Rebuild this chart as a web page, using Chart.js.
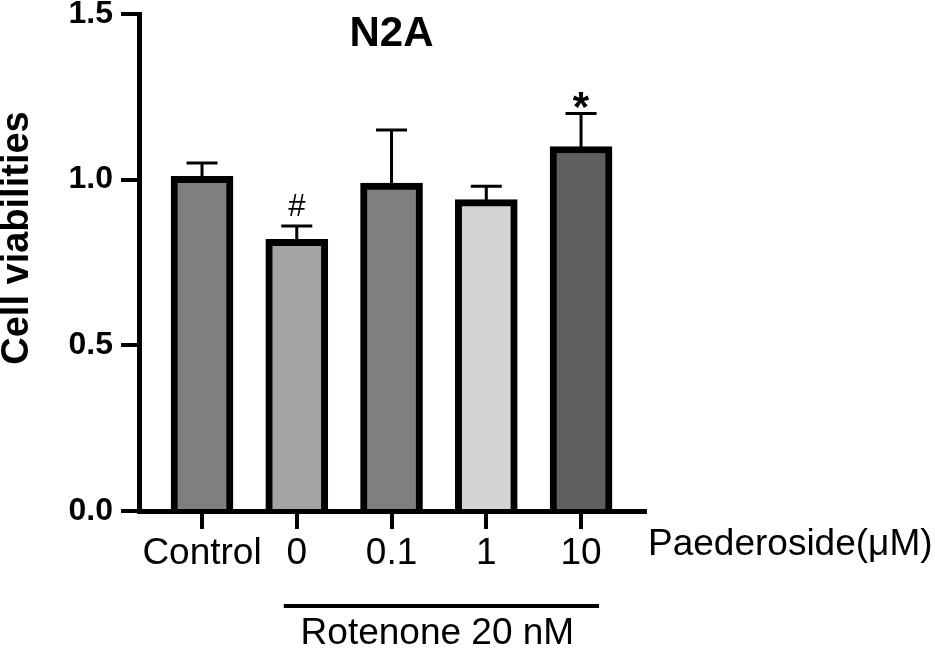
<!DOCTYPE html>
<html>
<head>
<meta charset="utf-8">
<title>N2A cell viabilities</title>
<script src="https://cdn.jsdelivr.net/npm/chart.js@4.4.0/dist/chart.umd.min.js"></script>
<style>
  html, body { margin: 0; padding: 0; background: #fff; }
  #wrap { width: 935px; height: 652px; }
</style>
</head>
<body>
<div id="wrap"><canvas id="chart" width="935" height="652"></canvas></div>
<script>
// values (mean + upper error)
const categories = ['Control', '0', '0.1', '1', '10'];
const means = [1.01, 0.82, 0.99, 0.94, 1.10];
const errors = [0.04, 0.04, 0.16, 0.04, 0.10];
const marks = ['', '#', '', '', '*'];
const barColors = ['#7f7f7f', '#a3a3a3', '#7f7f7f', '#d4d4d4', '#5f5f5f'];
const yTicks = [0, 0.5, 1.0, 1.5];

const FONT = "'Liberation Sans', Arial, Helvetica, sans-serif";

// error bars, significance marks and the extra labels
const extras = {
  id: 'extras',
  afterDatasetsDraw(chart) {
    const { ctx, scales: { x, y } } = chart;
    ctx.save();
    ctx.strokeStyle = '#000';
    ctx.lineWidth = 3;
    means.forEach((m, i) => {
      const cx = x.getPixelForValue(i);
      const top = y.getPixelForValue(m + errors[i]);
      const base = y.getPixelForValue(m);
      ctx.beginPath();
      ctx.moveTo(cx, base + 2);
      ctx.lineTo(cx, top);
      ctx.moveTo(cx - 15.5, top);
      ctx.lineTo(cx + 15.5, top);
      ctx.stroke();

      if (marks[i] === '#') {
        ctx.fillStyle = '#000';
        ctx.font = '31px ' + FONT;
        ctx.textAlign = 'center';
        ctx.textBaseline = 'alphabetic';
        ctx.fillText('#', cx, top - 10);
      } else if (marks[i] === '*') {
        ctx.fillStyle = '#000';
        ctx.font = 'bold 42px ' + FONT;
        ctx.textAlign = 'center';
        ctx.textBaseline = 'alphabetic';
        ctx.fillText('*', cx, top + 8);
      }
    });
    ctx.restore();
  },
  afterDraw(chart) {
    const { ctx, chartArea, scales: { x } } = chart;
    ctx.save();
    ctx.fillStyle = '#000';
    ctx.strokeStyle = '#000';

    // title
    ctx.font = 'bold 42px ' + FONT;
    ctx.textAlign = 'center';
    ctx.textBaseline = 'middle';
    ctx.fillText('N2A', x.getPixelForValue(2), 34);

    // y axis title
    ctx.save();
    ctx.translate(18, 238);
    ctx.rotate(-Math.PI / 2);
    ctx.font = 'bold 38px ' + FONT;
    ctx.fillText('Cell viabilities', 0, 0);
    ctx.restore();

    // right-hand label
    ctx.font = '37px ' + FONT;
    ctx.textAlign = 'left';
    ctx.fillText('Paederoside(\u03BCM)', chartArea.right + 3, 545);

    // rotenone bracket
    const x1 = x.getPixelForValue(1) - 13;
    const x2 = x.getPixelForValue(4) + 18;
    ctx.lineWidth = 4;
    ctx.beginPath();
    ctx.moveTo(x1, 606);
    ctx.lineTo(x2, 606);
    ctx.stroke();
    ctx.font = '37px ' + FONT;
    ctx.textAlign = 'center';
    ctx.fillText('Rotenone 20 nM', (x1 + x2) / 2 - 4, 634);
    ctx.restore();
  }
};

const ctx = document.getElementById('chart').getContext('2d');
const chart = new Chart(ctx, {
  type: 'bar',
  data: {
    datasets: [{
      data: means.map((m, i) => ({ x: i, y: m })),
      backgroundColor: barColors,
      borderColor: '#000',
      borderWidth: 7,
      borderSkipped: 'start',
      barThickness: 62
    }]
  },
  options: {
    responsive: false,
    animation: false,
    layout: { padding: { top: 14, right: 290, left: 0, bottom: 0 } },
    plugins: {
      legend: { display: false },
      tooltip: { enabled: false },
      title: { display: false }
    },
    scales: {
      x: {
        type: 'linear',
        min: -0.665,
        max: 4.675,
        offset: false,
        z: 1,
        afterBuildTicks: s => { s.ticks = categories.map((c, i) => ({ value: i })); },
        afterFit: s => { s.height = 141; s.paddingLeft = 0; s.paddingRight = 0; },
        grid: { offset: false, drawOnChartArea: false, tickLength: 18, lineWidth: 4, tickWidth: 4, color: '#000', tickColor: '#000' },
        border: { display: true, color: '#000', width: 5 },
        ticks: {
          color: '#000',
          font: { family: FONT, size: 37 },
          padding: 3,
          maxRotation: 0,
          autoSkip: false,
          callback: v => categories[v]
        }
      },
      y: {
        min: 0,
        max: 1.5,
        z: 1,
        afterBuildTicks: s => { s.ticks = yTicks.map(v => ({ value: v })); },
        afterFit: s => { s.width = 139; s.paddingTop = 0; s.paddingBottom = 0; },
        grid: { drawOnChartArea: false, tickLength: 18, lineWidth: 4, tickWidth: 4, color: '#000', tickColor: '#000' },
        border: { display: true, color: '#000', width: 5 },
        ticks: {
          color: '#000',
          font: { family: FONT, size: 32, weight: 'bold' },
          padding: 8,
          callback: v => v.toFixed(1)
        }
      }
    }
  },
  plugins: [extras]
});
</script>
</body>
</html>
